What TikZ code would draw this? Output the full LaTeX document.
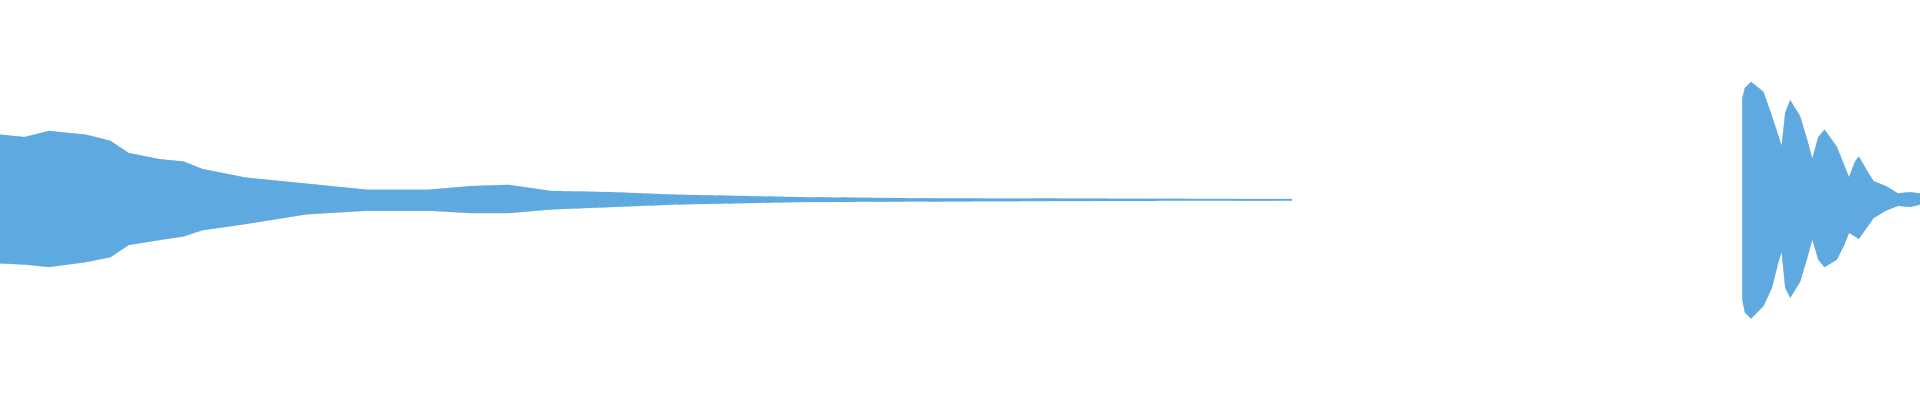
\documentclass[tikz,border=0pt]{standalone}
\definecolor{wave}{HTML}{5DA9E0}
\begin{document}
\begin{tikzpicture}[x=1.2245pt,y=-1.2245pt,wf/.style={fill=wave,draw=wave,line width=0.3pt}]
\useasboundingbox (0,0) rectangle (1568,326.6);
\fill[wf] (0,110) -- (20,112) -- (40,107) -- (70,110) -- (90,115) -- (105,125) -- (130,130) -- (150,132) -- (165,138) -- (200,145) -- (250,150) -- (300,155) -- (350,155) -- (385,152) -- (415,151) -- (450,156) -- (500,157) -- (550,159) -- (650,161) -- (750,162) -- (900,162.3) -- (1055,162.6)
 -- (1055,163.8) -- (900,164) -- (750,164.5) -- (650,165) -- (550,167) -- (500,169) -- (450,171) -- (415,174) -- (385,174) -- (350,172) -- (300,172) -- (250,175) -- (200,183) -- (165,188) -- (150,193) -- (130,196) -- (105,200) -- (90,210) -- (70,214) -- (40,218) -- (20,216) -- (0,215) -- cycle;
\fill[wf] (1423,80) -- (1425,72) -- (1430,67) -- (1440,75) -- (1447,95) -- (1452,110) -- (1455,120) -- (1458,92) -- (1462,82) -- (1470,95) -- (1476,115) -- (1480,130) -- (1485,112) -- (1490,106) -- (1500,120) -- (1506,135) -- (1510,145) -- (1515,132) -- (1518,128) -- (1525,140) -- (1530,148) -- (1540,152) -- (1550,158) -- (1560,157) -- (1568,158)
 -- (1568,167) -- (1560,169) -- (1550,168) -- (1540,172) -- (1530,178) -- (1525,185) -- (1518,195) -- (1515,193) -- (1510,190) -- (1506,200) -- (1500,212) -- (1490,218) -- (1485,212) -- (1480,195) -- (1476,210) -- (1470,230) -- (1462,243) -- (1458,235) -- (1455,205) -- (1452,215) -- (1447,235) -- (1440,250) -- (1430,260) -- (1425,255) -- (1423,245) -- cycle;
\end{tikzpicture}
\end{document}
